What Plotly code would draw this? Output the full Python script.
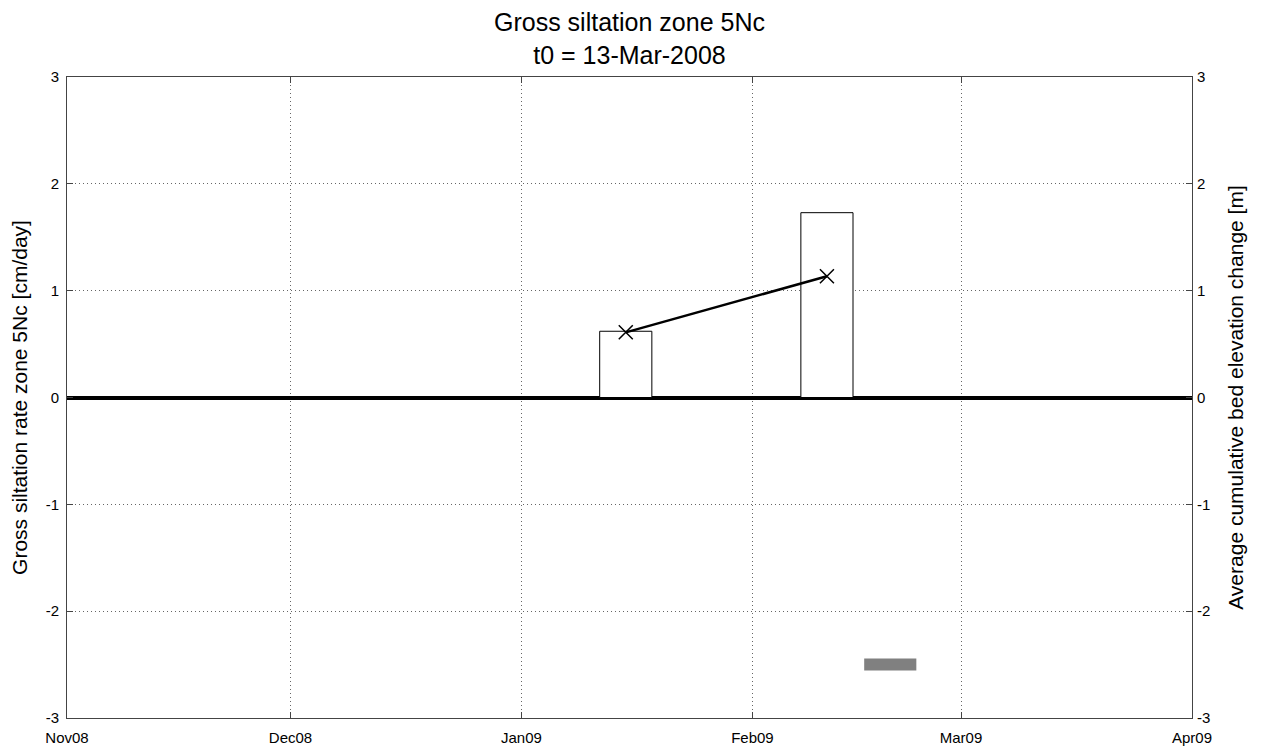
# Gross siltation zone 5Nc chart
import plotly.graph_objects as go

# bar data: centre dates and siltation rates [cm/day]
bar_dates = ["2009-01-15", "2009-02-11"]
bar_rates = [0.62, 1.73]
bar_width_days = 7

# cumulative bed elevation change [m]
cum_dates = ["2009-01-15", "2009-02-11"]
cum_values = [0.61, 1.135]

# grey marker band
band_dates = ["2009-02-16", "2009-02-23"]
band_values = [-2.5, -2.5]

y_ticks = [-3, -2, -1, 0, 1, 2, 3]
y_labels = ["-3", "-2", "-1", "0", "1", "2", "3"]
x_ticks = ["2008-11-01", "2008-12-01", "2009-01-01", "2009-02-01", "2009-03-01", "2009-04-01"]
x_labels = ["Nov08", "Dec08", "Jan09", "Feb09", "Mar09", "Apr09"]

font = "Liberation Sans, Arial, sans-serif"
grid = dict(showgrid=True, gridcolor="#666", griddash="1px,3px", gridwidth=1)

fig = go.Figure()

fig.add_trace(go.Bar(
    x=bar_dates, y=bar_rates,
    width=[bar_width_days * 86400000] * len(bar_dates),
    marker=dict(color="white", line=dict(color="black", width=1)),
    showlegend=False,
))

fig.add_trace(go.Scatter(
    x=band_dates, y=band_values, mode="lines",
    line=dict(color="#808080", width=12),
    showlegend=False,
))

fig.add_trace(go.Scatter(
    x=cum_dates, y=cum_values, yaxis="y2", mode="lines+markers",
    line=dict(color="black", width=2.5),
    marker=dict(symbol="x-thin", size=14, line=dict(color="black", width=1.5)),
    showlegend=False,
))

# page body has an 8px margin, so the figure is drawn 8px smaller
fig.update_layout(
    width=1258, height=739,
    paper_bgcolor="white", plot_bgcolor="white",
    margin=dict(l=59, r=74, t=69, b=29),
    font=dict(family=font, size=15, color="black"),
    xaxis=dict(
        type="date", range=["2008-11-01", "2009-04-01"],
        tickvals=x_ticks, ticktext=x_labels, automargin=False,
        ticks="inside", ticklen=6, tickcolor="#444", ticklabelstandoff=6,
        showline=True, linecolor="#444", linewidth=1, mirror="ticks",
        zeroline=False, **grid,
    ),
    yaxis=dict(
        range=[-3, 3], tickvals=y_ticks, ticktext=y_labels, automargin=False,
        ticks="inside", ticklen=6, tickcolor="#444", ticklabelstandoff=4,
        showline=True, linecolor="#444", linewidth=1, mirror=True,
        zeroline=True, zerolinecolor="black", zerolinewidth=3.5, **grid,
        title=dict(text="Gross siltation rate zone 5Nc [cm/day]", font=dict(size=21), standoff=12),
    ),
    yaxis2=dict(
        range=[-3, 3], tickvals=y_ticks, ticktext=y_labels, automargin=False,
        overlaying="y", side="right",
        ticks="inside", ticklen=6, tickcolor="#444", ticklabelstandoff=4,
        showgrid=False, zeroline=False, showline=False,
        title=dict(text="Average cumulative bed elevation change [m]", font=dict(size=21), standoff=18),
    ),
    annotations=[
        dict(text="Gross siltation zone 5Nc<br>t0 = 13-Mar-2008", xref="paper", yref="paper",
             x=0.5, y=1.060, xanchor="center", yanchor="middle", showarrow=False,
             font=dict(size=25)),
    ],
)

fig.write_html("out.html")
